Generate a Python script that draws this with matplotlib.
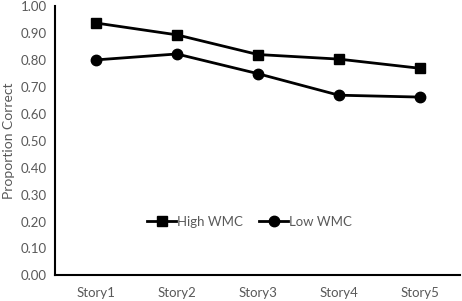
import matplotlib.pyplot as plt

stories = ['Story1', 'Story2', 'Story3', 'Story4', 'Story5']
high_wmc = [0.937, 0.893, 0.820, 0.803, 0.769]
low_wmc = [0.800, 0.822, 0.749, 0.669, 0.662]
yticks = [0.0, 0.1, 0.2, 0.3, 0.4, 0.5, 0.6, 0.7, 0.8, 0.9, 1.0]

plt.rcParams['font.family'] = ['Lato', 'DejaVu Sans']

fig = plt.figure(figsize=(4.62, 3.01), dpi=100)
ax = fig.add_axes([0.12, 0.085, 0.876, 0.895])

x = range(len(stories))
ax.plot(x, high_wmc, color='black', lw=2, marker='s', ms=7, label='High WMC')
ax.plot(x, low_wmc, color='black', lw=2, marker='o', ms=7.5, label='Low WMC')

ax.set_xlim(-0.5, 4.5)
ax.set_ylim(0, 1.0)
ax.set_xticks(list(x))
ax.set_xticklabels(stories)
ax.set_yticks(yticks)
ax.set_yticklabels(['%.2f' % v for v in yticks])
ax.tick_params(length=0, labelsize=9.5, colors='#595959', pad=6)
ax.tick_params(axis='x', pad=8)

for s in ['top', 'right']:
    ax.spines[s].set_visible(False)
for s in ['left', 'bottom']:
    ax.spines[s].set_linewidth(1.5)
    ax.spines[s].set_color('black')

ax.set_ylabel('Proportion Correct', fontsize=10, color='#595959', labelpad=4)

ax.legend(loc='center', bbox_to_anchor=(0.48, 0.2), ncol=2, frameon=False,
          fontsize=9.5, handlelength=2.2, handletextpad=0.1, columnspacing=1.2,
          labelcolor='#595959')

fig.savefig('out.png', dpi=100)
